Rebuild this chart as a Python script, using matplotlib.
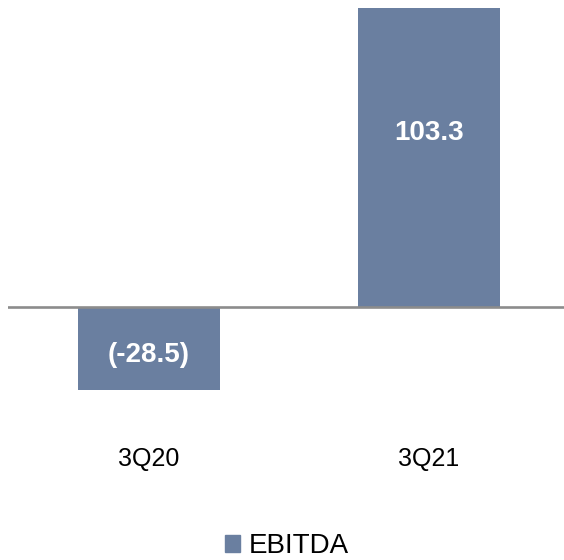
import matplotlib.pyplot as plt
import matplotlib.patches as mpatches

categories = ['3Q20', '3Q21']
ebitda = [-28.5, 103.3]
labels = ['(-28.5)', '103.3']

bar_color = '#6a7fa0'

plt.rcParams['font.family'] = ['Liberation Sans', 'DejaVu Sans']

fig = plt.figure(figsize=(5.64, 5.60), dpi=100)
ax = fig.add_axes([8 / 564, 1 - 400 / 560, 556 / 564, 400 / 560])

x = list(range(len(categories)))
ax.bar(x, ebitda, width=0.51, color=bar_color, zorder=2)
ax.axhline(0, color='#8c8c8c', lw=1.9, zorder=3)

# value labels sit a bit past the middle of each bar
for xi, v, lab in zip(x, ebitda, labels):
    ax.text(xi, v * 0.58, lab, color='white', fontsize=20, fontweight='bold',
            ha='center', va='center', zorder=4)

ax.set_xlim(-0.504, 1.482)
ax.set_ylim(-31.9, 105.9)
ax.set_xticks(x)
ax.set_xticklabels(categories, fontsize=18)
ax.tick_params(axis='x', length=0, pad=34)
ax.set_yticks([])
for s in ax.spines.values():
    s.set_visible(False)

handle = mpatches.Patch(color=bar_color, label='EBITDA')
fig.legend(handles=[handle], loc='center', bbox_to_anchor=(0.508, 0.025),
           frameon=False, fontsize=20, handlelength=0.55, handleheight=0.55,
           handletextpad=0.3)

fig.savefig('out.png', dpi=100)
